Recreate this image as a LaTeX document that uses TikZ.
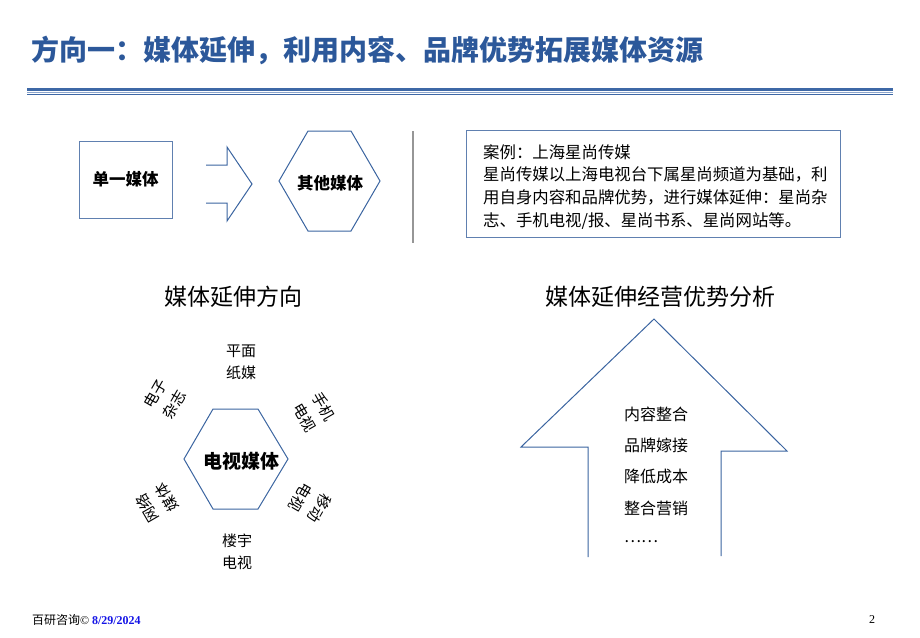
\documentclass[tikz,border=0pt]{standalone}
\usepackage{fontspec}
\setmainfont{Noto Sans CJK SC}
\newfontfamily\cjk{Noto Sans CJK SC}
\newfontfamily\latinserif{Liberation Serif}
\definecolor{titleblue}{RGB}{44,88,154}
\definecolor{lineblue}{RGB}{62,104,166}
\definecolor{lightblue}{RGB}{140,165,204}
\definecolor{shapeblue}{RGB}{58,100,160}
\definecolor{boxblue}{RGB}{96,128,176}
\definecolor{vgray}{RGB}{150,150,150}
\definecolor{datablue}{RGB}{20,20,230}
\tikzset{
  shapeline/.style={draw=shapeblue, line width=1pt},
  boxline/.style={draw=boxblue, line width=1pt},
  lbl/.style={font=\fontsize{15}{22}\selectfont, align=center, inner sep=0pt},
  advtxt/.style={font=\fontsize{16}{16}\selectfont, anchor=west, inner sep=0pt},
}
\begin{document}
\begin{tikzpicture}[x=1pt,y=-1pt]
\useasboundingbox (0,0) rectangle (920,637);
% title
\node[anchor=west, inner sep=0pt, text=titleblue, font=\fontsize{28}{28}\selectfont\bfseries] (title) at (31,50) {方向一：媒体延伸，利用内容、品牌优势拓展媒体资源};
\draw[lineblue, line width=3.5pt] (27,89.5) -- (893,89.5);
\draw[lightblue, line width=1pt] (27,92.5) -- (893,92.5);
\draw[lineblue, line width=0.8pt] (27,94) -- (893,94);
% top row
\node[boxline, minimum width=93pt, minimum height=77pt, inner sep=0pt, font=\fontsize{16.5}{16.5}\selectfont\bfseries] (single) at (125.5,179.5) {单一媒体};
\draw[shapeline] (206,165) -- (227,165) -- (227,147) -- (252,184) -- (227,221) -- (227,203) -- (206,203);
\draw[shapeline] (279,181) -- (308,131) -- (351,131) -- (380,181) -- (351,231) -- (308,231) -- cycle;
\node[font=\fontsize{16.5}{16.5}\selectfont\bfseries, inner sep=0pt] (other) at (330,183) {其他媒体};
\draw[vgray, line width=1.5pt] (413,131) -- (413,243);
\node[boxline, anchor=north west, minimum width=374pt, minimum height=107pt, inner sep=0pt] (casebox) at (466,130) {};
\node[anchor=north west, inner sep=0pt, align=left, font=\fontsize{16.4}{22.7}\selectfont] (casetext) at (483,144) {案例：上海星尚传媒\\星尚传媒以上海电视台下属星尚频道为基础，利\\用自身内容和品牌优势，进行媒体延伸：星尚杂\\志、手机电视/报、星尚书系、星尚网站等。};
% headings
\node[font=\fontsize{23}{23}\selectfont, inner sep=0pt] (h1) at (233,297) {媒体延伸方向};
\node[font=\fontsize{23}{23}\selectfont, inner sep=0pt] (h2) at (660,297) {媒体延伸经营优势分析};
% TV hexagon
\draw[shapeline] (184,459) -- (213,409) -- (258,409) -- (288,459) -- (258,509) -- (213,509) -- cycle;
\node[font=\fontsize{19}{19}\selectfont\bfseries, inner sep=0pt] (tv) at (241,461) {电视媒体};
\node[lbl] (print) at (241,362) {平面\\纸媒};
\node[lbl] (building) at (237,552) {楼宇\\电视};
\node[lbl, rotate=60] (emag) at (165,399) {电子\\杂志};
\node[lbl, rotate=-60] (mobiletv) at (314,412) {手机\\电视};
\node[lbl, rotate=-120] (move) at (310,503) {移动\\电视};
\node[lbl, rotate=120] (net) at (157,503) {网络\\媒体};
% big arrow
\draw[shapeline] (588,557) -- (588,447) -- (521,447) -- (654,319) -- (787,451) -- (721,451) -- (721,556);
\node[advtxt] (a1) at (624,414) {内容整合};
\node[advtxt] (a2) at (624,445) {品牌嫁接};
\node[advtxt] (a3) at (624,476) {降低成本};
\node[advtxt] (a4) at (624,508) {整合营销};
\node[advtxt] (a5) at (624,542) {……};
% footer
\node[anchor=west, inner sep=0pt, font=\fontsize{12}{12}\selectfont] (foot) at (32,620) {百研咨询{\latinserif ©} {\latinserif\bfseries\color{datablue}8/29/2024}};
\node[inner sep=0pt, font=\latinserif\fontsize{12}{12}\selectfont] (page) at (872,620) {2};
\end{tikzpicture}
\end{document}
